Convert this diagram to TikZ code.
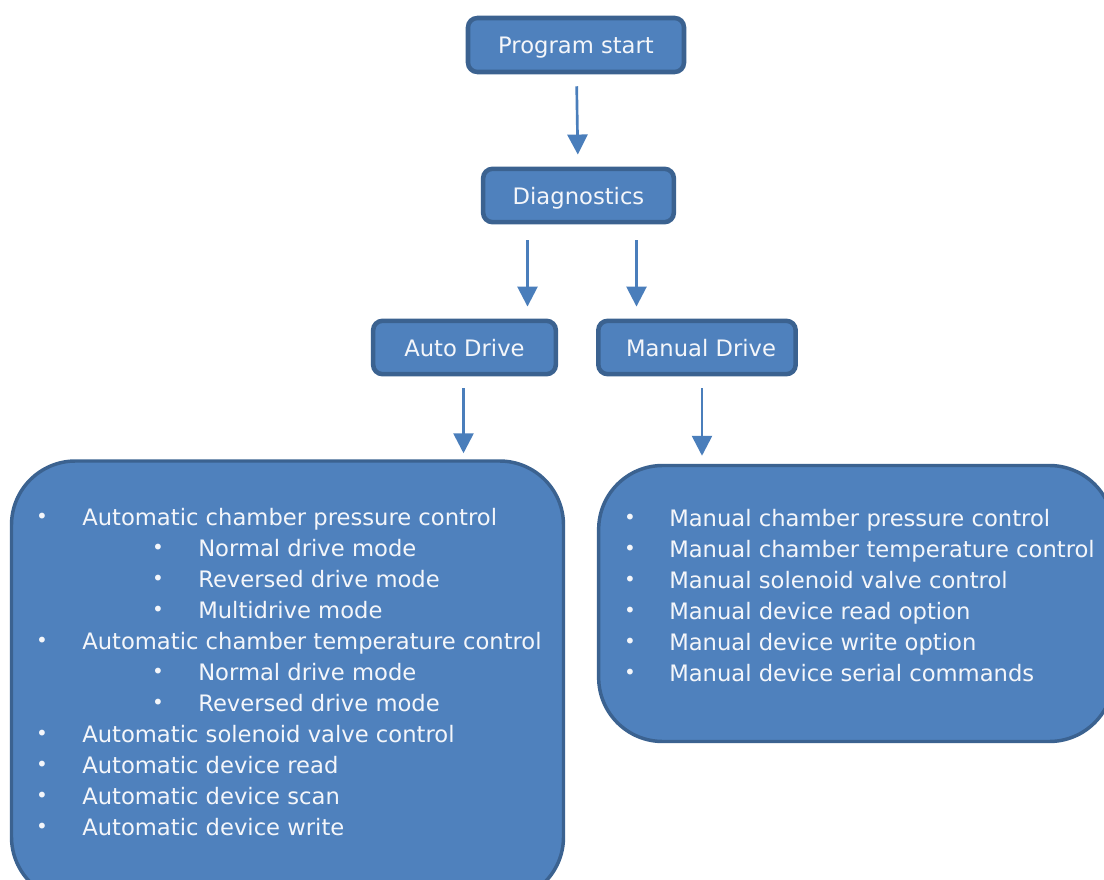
\documentclass[tikz,border=0pt]{standalone}
\usepackage{fontspec}
\setmainfont{DejaVu Sans}
\usetikzlibrary{arrows.meta}

\definecolor{boxfill}{HTML}{4F81BD}
\definecolor{boxline}{HTML}{3B6290}
\definecolor{arrowblue}{HTML}{4A7EBB}
\definecolor{textwhite}{HTML}{F4F6FA}

\begin{document}
\begin{tikzpicture}[x=0.75pt,y=-0.75pt,
  stage/.style={draw=boxline,fill=boxfill,line width=3.4pt,rounded corners=7pt,
    text=textwhite,font=\fontsize{17}{20}\selectfont,inner sep=0pt,text depth=0pt},
  panel/.style={draw=boxline,fill=boxfill,line width=2.6pt,rounded corners=48pt,inner sep=0pt},
  item/.style={text=textwhite,font=\fontsize{17}{20}\selectfont,anchor=base west,inner sep=0pt},
  dot/.style={text=textwhite,font=\fontsize{15}{16}\selectfont,anchor=base,inner sep=0pt},
  flow/.style={draw=arrowblue,line width=2pt,-{Triangle[length=15pt,width=15pt]}}]
\path[use as bounding box,clip] (0,0) rectangle (1104,880);

% stages
\node[stage,minimum width=162pt,minimum height=40.5pt] (start) at (576,45) {Program start};
\node[stage,minimum width=143pt,minimum height=40pt] (diag) at (578.5,195.5) {Diagnostics};
\node[stage,minimum width=137pt,minimum height=40pt] (auto) at (464.5,347.5) {Auto Drive\hspace{9pt}};
\node[stage,minimum width=148pt,minimum height=40pt] (manual) at (697,347.5) {\hspace{6pt}Manual Drive};

% panels
\node[panel,minimum width=414pt,minimum height=330pt] (autobox) at (287.5,681) {};
\node[panel,minimum width=386pt,minimum height=207pt] (manbox) at (856,603.5) {};

% arrows
\draw[flow,shorten <=9pt,shorten >=9pt] (start) -- (diag);
\coordinate (dl) at ([xshift=-38.25pt]diag.south);
\coordinate (dr) at ([xshift=43.5pt]diag.south);
\draw[flow,shorten <=12pt,shorten >=9pt] (dl) -- (dl |- auto.north);
\draw[flow,shorten <=12pt,shorten >=9pt] (dr) -- (dr |- manual.north);
\coordinate (al) at ([xshift=-0.75pt]auto.south);
\coordinate (mr) at ([xshift=3.75pt]manual.south);
\draw[flow,shorten <=9pt,shorten >=4.5pt] (al) -- (al |- autobox.north);
\draw[flow,shorten <=9pt,shorten >=6pt] (mr) -- (mr |- manbox.north);

% auto list
\foreach \x/\t [count=\i] in {82/Automatic chamber pressure control,
    198/Normal drive mode, 198/Reversed drive mode, 198/Multidrive mode,
    82/Automatic chamber temperature control,
    198/Normal drive mode, 198/Reversed drive mode,
    82/Automatic solenoid valve control, 82/Automatic device read,
    82/Automatic device scan, 82/Automatic device write} {
  \node[item] (auto-\i) at (\x,{526+30.9*(\i-1)}) {\t};
  \node[dot] (auto-b\i) at (\x-40,{524+30.9*(\i-1)}) {\textbullet};
}

% manual list
\foreach \t [count=\i] in {Manual chamber pressure control,
    Manual chamber temperature control, Manual solenoid valve control,
    Manual device read option, Manual device write option,
    Manual device serial commands} {
  \node[item] (man-\i) at (669,{527+30.9*(\i-1)}) {\t};
  \node[dot] (man-b\i) at (630,{525+30.9*(\i-1)}) {\textbullet};
}
\end{tikzpicture}
\end{document}
